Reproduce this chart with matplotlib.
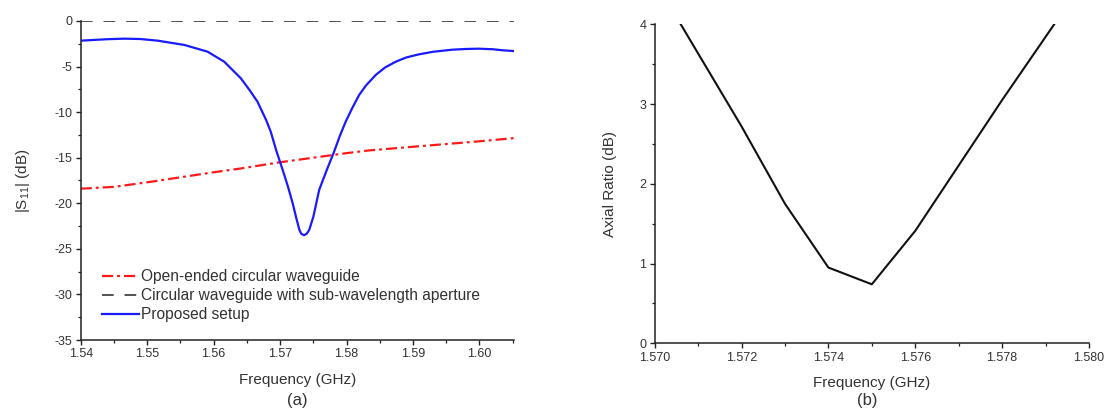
import matplotlib
matplotlib.use("Agg")
import matplotlib.pyplot as plt
from matplotlib.ticker import MultipleLocator, FormatStrFormatter

plt.rcParams['font.family'] = ['Liberation Sans', 'DejaVu Sans']
plt.rcParams['axes.unicode_minus'] = False
plt.rcParams['mathtext.fontset'] = 'custom'
plt.rcParams['mathtext.rm'] = 'Liberation Sans'
plt.rcParams['mathtext.it'] = 'Liberation Sans:italic'

# (a) |S11| data
freq_blue = [1.5400, 1.5440, 1.5466, 1.5490, 1.5516, 1.5556, 1.5591, 1.5616, 1.5641,
             1.5654, 1.5666, 1.5679, 1.5686, 1.5694, 1.5704, 1.5712, 1.5719, 1.5724,
             1.5729, 1.5732, 1.5736, 1.5740, 1.5744, 1.5750, 1.5759, 1.5770, 1.5781,
             1.5790, 1.5799, 1.5809, 1.5819, 1.5829, 1.5844, 1.5858, 1.5874, 1.5890,
             1.5909, 1.5930, 1.5959, 1.5980, 1.5999, 1.6020, 1.6036, 1.6052]
s11_blue = [-2.16, -2.0, -1.94, -1.98, -2.16, -2.63, -3.37, -4.47, -6.29,
            -7.57, -8.85, -10.86, -12.15, -14.15, -16.35, -18.2, -20.0, -21.5,
            -22.9, -23.35, -23.5, -23.35, -22.9, -21.5, -18.5, -16.4, -14.4,
            -12.6, -11.0, -9.5, -8.12, -7.1, -5.92, -5.1, -4.47, -4.0,
            -3.66, -3.38, -3.15, -3.07, -3.04, -3.1, -3.22, -3.3]
freq_red = [1.540, 1.545, 1.550, 1.560, 1.5639, 1.570, 1.580, 1.5834, 1.590, 1.600, 1.6052]
s11_red = [-18.4, -18.2, -17.7, -16.6, -16.2, -15.5, -14.5, -14.2, -13.8, -13.2, -12.85]
freq_black = [1.540, 1.6052]
s11_black = [0.0, 0.0]

legend_labels = ['Open-ended circular waveguide',
                 'Circular waveguide with sub-wavelength aperture',
                 'Proposed setup']

# (b) Axial ratio data
freq_ar = [1.5706, 1.572, 1.573, 1.574, 1.575, 1.576, 1.578, 1.5792]
ar = [4.0, 2.72, 1.75, 0.95, 0.74, 1.41, 3.05, 4.0]

fig = plt.figure(figsize=(11.07, 4.09), dpi=100)
ax1 = fig.add_axes([0.0729, 0.1687, 0.3914, 0.78])
ax2 = fig.add_axes([0.5914, 0.1606, 0.3923, 0.78])

txt = '#333333'
for ax in (ax1, ax2):
    ax.spines['top'].set_visible(False)
    ax.spines['right'].set_visible(False)
    for s in ('left', 'bottom'):
        ax.spines[s].set_linewidth(1.1)
        ax.spines[s].set_color('#222222')
    ax.tick_params(which='major', direction='out', length=3.5, width=1, labelsize=9,
                   colors='#222222', labelcolor=txt, pad=2.5)
    ax.tick_params(which='minor', direction='out', length=2, width=0.9, colors='#222222')

l1, = ax1.plot(freq_red, s11_red, color='#ff1a1a', lw=1.6, dashes=(5, 1.8, 1.3, 1.8))
l2, = ax1.plot(freq_black, s11_black, color='#505050', lw=1.4, dashes=(6, 5.6))
l3, = ax1.plot(freq_blue, s11_blue, color='#1a1aff', lw=1.6)
ax1.set_xlim(1.54, 1.6052)
ax1.set_ylim(-35, 0)
ax1.xaxis.set_major_locator(MultipleLocator(0.01))
ax1.xaxis.set_minor_locator(MultipleLocator(0.005))
ax1.yaxis.set_major_locator(MultipleLocator(5))
ax1.yaxis.set_minor_locator(MultipleLocator(2.5))
ax1.xaxis.set_major_formatter(FormatStrFormatter('%.2f'))
ax1.set_xlabel('Frequency (GHz)', fontsize=11, color=txt)
ax1.xaxis.set_label_coords(0.5, -0.105)
ax1.set_ylabel(r'|S$_{\mathregular{11}}$| (dB)', fontsize=11, color=txt)
ax1.yaxis.set_label_coords(-0.112, 0.5)
fig.legend([l1, l2, l3], legend_labels,
           loc='upper left', bbox_to_anchor=(102 / 1107, 1 - 269 / 409),
           bbox_transform=fig.transFigure, frameon=False,
           fontsize=11.2, handlelength=2.36, handletextpad=0.17, labelspacing=0.27,
           borderpad=0, borderaxespad=0, labelcolor=txt)
ax1.text(0.5, -0.19, '(a)', transform=ax1.transAxes, ha='center', va='center',
         fontsize=12, color=txt)

ax2.plot(freq_ar, ar, color='#111111', lw=1.5)
ax2.set_xlim(1.570, 1.580)
ax2.set_ylim(0, 4)
ax2.xaxis.set_major_locator(MultipleLocator(0.002))
ax2.xaxis.set_minor_locator(MultipleLocator(0.001))
ax2.yaxis.set_major_locator(MultipleLocator(1))
ax2.yaxis.set_minor_locator(MultipleLocator(0.5))
ax2.xaxis.set_major_formatter(FormatStrFormatter('%.3f'))
ax2.set_xlabel('Frequency (GHz)', fontsize=11, color=txt)
ax2.xaxis.set_label_coords(0.5, -0.104)
ax2.set_ylabel('Axial Ratio (dB)', fontsize=11, color=txt)
ax2.yaxis.set_label_coords(-0.087, 0.5)
ax2.text(0.49, -0.18, '(b)', transform=ax2.transAxes, ha='center', va='center',
         fontsize=12, color=txt)

fig.savefig('out.png', dpi=100)
